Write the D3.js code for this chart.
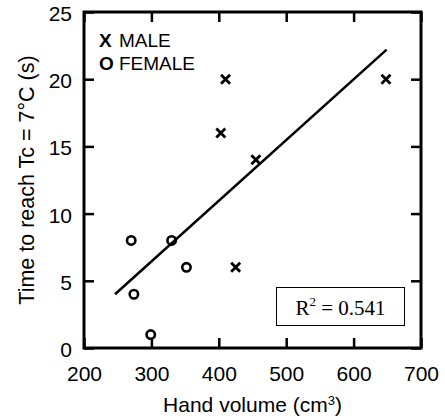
<!DOCTYPE html>
<html>
<head>
<meta charset="utf-8">
<script src="https://cdn.jsdelivr.net/npm/d3@7"></script>
<style>
  body { margin: 0; background: #fff; }
  svg text { font-family: "Liberation Sans", Arial, sans-serif; fill: #000; }
</style>
</head>
<body>
<svg id="chart"></svg>
<script>
// ---- data ----
const maleVol = [410, 648, 403, 455, 425];
const maleTime = [20, 20, 16, 14, 6];
const femaleVol = [270, 274, 299, 330, 352];
const femaleTime = [8, 4, 1, 8, 6];
// fitted line end points
const regVol = [246, 649];
const regTime = [4.0, 22.2];
const xTicks = [200, 300, 400, 500, 600, 700];
const yTicks = [0, 5, 10, 15, 20, 25];
const r2Label = "0.541";

const width = 445, height = 420;
const margin = {top: 12, right: 24, bottom: 72, left: 84};

const svg = d3.select("#chart").attr("width", width).attr("height", height);

const x = d3.scaleLinear().domain([200, 700]).range([margin.left, width - margin.right]);
const y = d3.scaleLinear().domain([0, 25]).range([height - margin.bottom, margin.top]);

// axes - inward ticks on all four sides
const tickLen = 10;
const styleAxis = g => {
  g.select(".domain").remove();
  g.selectAll(".tick line").attr("stroke", "#000").attr("stroke-width", 2.5);
  g.selectAll(".tick text").attr("font-size", 21).attr("font-family", "Liberation Sans, Arial, sans-serif");
};

svg.append("g")
  .attr("transform", `translate(0,${y(0)})`)
  .call(d3.axisBottom(x).tickValues(xTicks).tickSizeInner(-tickLen).tickSizeOuter(0).tickPadding(18))
  .call(styleAxis);

svg.append("g")
  .attr("transform", `translate(0,${y(25)})`)
  .call(d3.axisTop(x).tickValues(xTicks).tickSizeInner(-tickLen).tickSizeOuter(0).tickFormat(""))
  .call(styleAxis);

svg.append("g")
  .attr("transform", `translate(${x(200)},0)`)
  .call(d3.axisLeft(y).tickValues(yTicks).tickSizeInner(-tickLen).tickSizeOuter(0).tickPadding(12))
  .call(styleAxis)
  .call(g => g.selectAll(".tick text").attr("dy", "0.4em"));

svg.append("g")
  .attr("transform", `translate(${x(700)},0)`)
  .call(d3.axisRight(y).tickValues(yTicks).tickSizeInner(-tickLen).tickSizeOuter(0).tickFormat(""))
  .call(styleAxis);

// frame
svg.append("rect")
  .attr("x", x(200)).attr("y", y(25))
  .attr("width", x(700) - x(200)).attr("height", y(0) - y(25))
  .attr("fill", "none").attr("stroke", "#000").attr("stroke-width", 3);

// regression line
svg.append("line")
  .attr("x1", x(regVol[0])).attr("y1", y(regTime[0]))
  .attr("x2", x(regVol[1])).attr("y2", y(regTime[1]))
  .attr("stroke", "#000").attr("stroke-width", 2.5);

// females - open circles
svg.append("g").selectAll("circle")
  .data(femaleVol.map((v, i) => [v, femaleTime[i]]))
  .join("circle")
    .attr("cx", d => x(d[0])).attr("cy", d => y(d[1]))
    .attr("r", 4.2)
    .attr("fill", "none").attr("stroke", "#000").attr("stroke-width", 2.6);

// males - crosses
const s = 4.5;
svg.append("g").selectAll("path")
  .data(maleVol.map((v, i) => [v, maleTime[i]]))
  .join("path")
    .attr("transform", d => `translate(${x(d[0])},${y(d[1])})`)
    .attr("d", `M${-s},${-s}L${s},${s}M${-s},${s}L${s},${-s}`)
    .attr("stroke", "#000").attr("stroke-width", 2.8).attr("fill", "none");

// legend
const legend = svg.append("g").attr("font-size", 19);
[["X", "MALE", 46.7], ["O", "FEMALE", 70]].forEach(([sym, label, yy]) => {
  const t = legend.append("text").attr("x", 99).attr("y", yy);
  t.append("tspan").attr("font-weight", "bold").text(sym);
  t.append("tspan").attr("x", 119).text(label);
});

// R^2 box
svg.append("rect")
  .attr("x", 276.5).attr("y", 287.5).attr("width", 128).attr("height", 38)
  .attr("fill", "#fff").attr("stroke", "#000").attr("stroke-width", 1);
const r2 = svg.append("text")
  .attr("x", 340.5).attr("y", 315)
  .attr("text-anchor", "middle")
  .style("font-family", "Liberation Serif, Times New Roman, serif")
  .attr("font-size", 21);
r2.append("tspan").text("R");
r2.append("tspan").attr("font-size", 13).attr("dy", -9).text("2");
r2.append("tspan").attr("dy", 9).text(" = " + r2Label);

// axis titles
svg.append("text")
  .attr("x", (x(200) + x(700)) / 2).attr("y", 411.5)
  .attr("text-anchor", "middle").attr("font-size", 21)
  .html("Hand volume (cm<tspan font-size='13' dy='-7'>3</tspan><tspan dy='7'>)</tspan>");

svg.append("text")
  .attr("transform", `translate(34,${(y(0) + y(25)) / 2}) rotate(-90)`)
  .attr("text-anchor", "middle").attr("font-size", 21.5)
  .text("Time to reach Tc = 7°C (s)");
</script>
</body>
</html>
